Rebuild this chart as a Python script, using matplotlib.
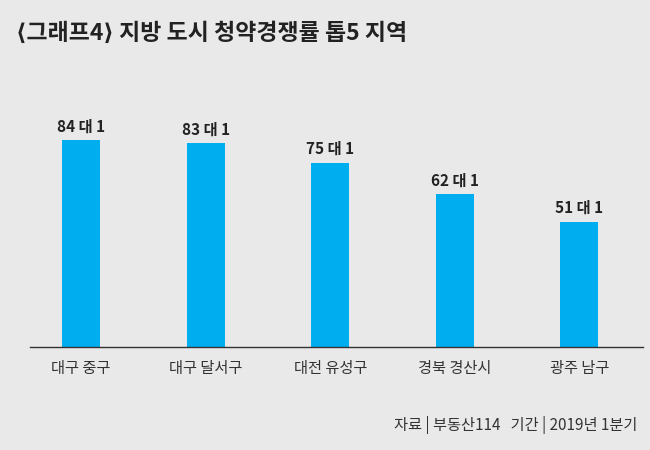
import matplotlib
matplotlib.use("Agg")
import matplotlib.pyplot as plt

plt.rcParams['font.family'] = ['Noto Sans CJK KR', 'DejaVu Sans']

regions = ["대구 중구", "대구 달서구", "대전 유성구", "경북 경산시", "광주 남구"]
rates = [84, 83, 75, 62, 51]
value_labels = ["84 대 1", "83 대 1", "75 대 1", "62 대 1", "51 대 1"]

bg = "#e9e9e9"
bar_color = "#00aeef"

fig = plt.figure(figsize=(6.5, 4.5), dpi=100, facecolor=bg)
ax = fig.add_axes([30 / 650, 103 / 450, 613 / 650, 246 / 450])
ax.set_facecolor(bg)

x = list(range(len(regions)))
bars = ax.bar(x, rates, width=0.305, color=bar_color)

for b, lab in zip(bars, value_labels):
    ax.annotate(lab, (b.get_x() + b.get_width() / 2, b.get_height()),
                xytext=(0, 4), textcoords="offset points",
                ha="center", va="bottom", fontsize=11, fontweight="bold",
                color="#222222")

ax.set_xlim(-0.41, 4.51)
ax.set_ylim(0, 100)
ax.set_yticks([])
ax.set_xticks(x)
ax.set_xticklabels(regions, fontsize=11, color="#333333")
ax.tick_params(axis="x", length=0, pad=9)
for s in ["top", "right", "left"]:
    ax.spines[s].set_visible(False)
ax.spines["bottom"].set_color("#333333")
ax.spines["bottom"].set_linewidth(1.0)

fig.text(16 / 650, 1 - 33 / 450, "\u27e8그래프4\u27e9 지방 도시 청약경쟁률 톱5 지역",
         fontsize=16.5, fontweight="bold", color="#222222", va="center", ha="left")
fig.text(637 / 650, 1 - 425 / 450, "자료 | 부동산114   기간 | 2019년 1분기",
         fontsize=11, color="#333333", va="center", ha="right")

fig.savefig("out.png", dpi=100, facecolor=bg)
